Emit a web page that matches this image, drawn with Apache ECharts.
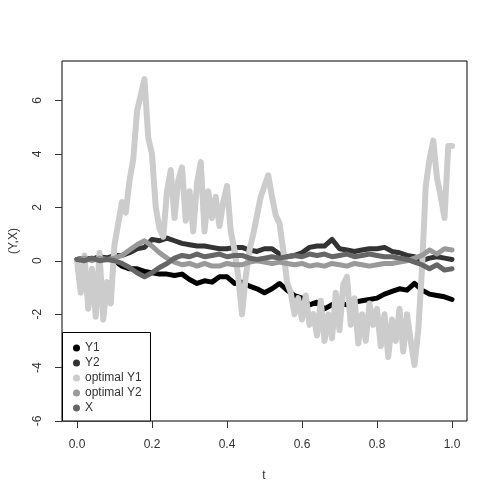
<!DOCTYPE html>
<html>
<head>
<meta charset="utf-8">
<script src="https://cdn.jsdelivr.net/npm/echarts@6/dist/echarts.min.js"></script>
<style>
  html, body { margin: 0; padding: 0; background: #fff; }
  #chart { width: 498px; height: 498px; }
</style>
</head>
<body>
<div id="chart"></div>
<script>
  // time grid, step 0.02 (smooth series) and 0.01 (optimal Y1)
  var tCoarse = [0.00,0.02,0.04,0.06,0.08,0.10,0.12,0.14,0.16,0.18,0.20,0.22,0.24,0.26,0.28,0.30,0.32,0.34,0.36,0.38,0.40,
    0.42,0.44,0.46,0.48,0.50,0.52,0.54,0.56,0.58,0.60,0.62,0.64,0.66,0.68,0.70,0.72,0.74,0.76,0.78,0.80,
    0.82,0.84,0.86,0.88,0.90,0.92,0.94,0.96,0.98,1.00];
  var tFine = [0.00,0.01,0.02,0.03,0.04,0.05,0.06,0.07,0.08,0.09,0.10,0.11,0.12,0.13,0.14,0.15,0.16,0.17,0.18,0.19,0.20,
    0.21,0.22,0.23,0.24,0.25,0.26,0.27,0.28,0.29,0.30,0.31,0.32,0.33,0.34,0.35,0.36,0.37,0.38,0.39,0.40,
    0.41,0.42,0.43,0.44,0.45,0.46,0.47,0.48,0.49,0.50,0.51,0.52,0.53,0.54,0.55,0.56,0.57,0.58,0.59,0.60,
    0.61,0.62,0.63,0.64,0.65,0.66,0.67,0.68,0.69,0.70,0.71,0.72,0.73,0.74,0.75,0.76,0.77,0.78,0.79,0.80,
    0.81,0.82,0.83,0.84,0.85,0.86,0.87,0.88,0.89,0.90,0.91,0.92,0.93,0.94,0.95,0.96,0.97,0.98,0.99,1.00];

  var y1 = [0.05,0.1,0.05,0.15,0.1,0.0,-0.2,-0.3,-0.3,-0.4,-0.45,-0.5,-0.5,-0.55,-0.5,-0.7,-0.85,-0.75,-0.8,-0.6,-0.6,
    -0.85,-0.8,-0.95,-1.05,-1.2,-1.05,-0.85,-1.1,-1.3,-1.4,-1.65,-1.55,-1.8,-1.65,-1.6,-1.65,-1.55,-1.5,-1.45,-1.4,
    -1.25,-1.15,-1.05,-1.1,-0.85,-1.1,-1.25,-1.3,-1.35,-1.45];
  var y2 = [0.05,0.1,0.05,0.15,0.1,0.2,0.2,0.3,0.45,0.5,0.8,0.75,0.85,0.75,0.65,0.6,0.55,0.55,0.5,0.45,0.45,
    0.5,0.5,0.4,0.35,0.45,0.45,0.25,0.15,0.2,0.3,0.5,0.55,0.55,0.8,0.45,0.4,0.35,0.4,0.45,0.45,
    0.5,0.35,0.3,0.2,0.15,0.0,0.1,0.15,0.1,0.05];
  var optY1 = [0.0,-1.2,0.2,-1.8,-0.3,-2.1,0.3,-2.2,-0.8,-1.6,0.6,1.4,2.2,1.8,3.0,3.8,5.6,6.2,6.8,4.6,4.0,
    2.0,1.2,0.9,2.6,3.4,1.6,3.0,3.5,1.5,2.6,1.1,2.9,3.7,1.1,2.6,1.6,2.4,1.3,2.2,2.8,
    1.1,0.4,-0.6,-2.0,-0.6,0.4,1.0,1.7,2.4,2.8,3.2,2.4,1.7,1.4,0.4,-0.8,-1.2,-2.0,-1.4,-2.2,
    -1.3,-2.4,-2.0,-2.8,-1.5,-3.0,-2.0,-2.9,-1.2,-2.6,-0.9,-0.6,-2.4,-1.4,-3.1,-2.0,-3.0,-1.6,-2.4,-1.8,
    -3.2,-2.0,-3.6,-2.2,-3.0,-1.8,-3.4,-2.0,-3.0,-3.9,-2.6,-0.3,2.8,3.8,4.5,3.1,2.4,1.6,4.3,4.3];
  var optY2 = [0.05,0.1,0.0,0.1,0.05,0.1,0.2,0.4,0.6,0.75,0.55,0.3,0.1,-0.05,-0.15,-0.1,-0.2,-0.1,-0.2,-0.2,-0.1,
    -0.15,-0.15,-0.05,0.0,-0.05,-0.1,-0.05,-0.1,-0.15,-0.1,-0.2,-0.15,-0.2,-0.1,-0.15,-0.2,-0.1,-0.15,-0.2,-0.15,
    -0.1,-0.1,-0.05,0.0,0.1,0.2,0.4,0.25,0.45,0.4];
  var xs = [0.05,0.0,0.1,0.0,0.05,0.0,-0.1,-0.25,-0.45,-0.6,-0.45,-0.25,-0.1,0.1,0.2,0.15,0.25,0.15,0.2,0.25,0.15,
    0.2,0.2,0.1,0.05,0.1,0.15,0.1,0.15,0.2,0.15,0.25,0.2,0.25,0.15,0.2,0.25,0.15,0.2,0.25,0.2,
    0.15,0.15,0.1,0.05,-0.05,-0.15,-0.3,-0.15,-0.35,-0.3];

  var xTicks = [0, 0.2, 0.4, 0.6, 0.8, 1.0];
  var yTicks = [-6, -4, -2, 0, 2, 4, 6];

  function pairs(t, v) {
    var out = [];
    for (var i = 0; i < v.length; i++) out.push([t[i], v[i]]);
    return out;
  }

  function lineSeries(name, color, t, v, w) {
    return {
      name: name,
      type: 'line',
      data: pairs(t, v),
      showSymbol: false,
      symbol: 'circle',
      color: color,
      lineStyle: { color: color, width: w, join: 'round', cap: 'round' },
      animation: false,
      z: 2
    };
  }

  var chart = echarts.init(document.getElementById('chart'));
  var font = 'Liberation Sans, Arial, sans-serif';
  chart.setOption({
    backgroundColor: '#fff',
    animation: false,
    grid: {
      left: 62, top: 61, width: 405, height: 360,
      show: true, borderColor: '#000', borderWidth: 1, backgroundColor: 'transparent'
    },
    xAxis: {
      type: 'value', min: -0.04, max: 1.04,
      splitLine: { show: false },
      axisLine: { show: false, onZero: false },
      axisTick: { show: true, length: 7, customValues: xTicks, lineStyle: { color: '#333' } },
      axisLabel: {
        customValues: xTicks, margin: 18, color: '#333',
        fontFamily: font, fontSize: 12,
        formatter: function (v) { return v.toFixed(1); }
      }
    },
    yAxis: {
      type: 'value', min: -6, max: 7.48,
      splitLine: { show: false },
      axisLine: { show: false, onZero: false },
      axisTick: { show: true, length: 7, customValues: yTicks, lineStyle: { color: '#333' } },
      axisLabel: {
        customValues: yTicks, margin: 18, rotate: 90, color: '#333',
        fontFamily: font, fontSize: 12
      }
    },
    legend: {
      orient: 'vertical', left: 68, top: 336,
      icon: 'circle', itemWidth: 7, itemHeight: 7, itemGap: 1, itemTextGap: 8,
      selectedMode: false, z: 10,
      textStyle: { fontFamily: font, fontSize: 12, lineHeight: 14, color: '#333' },
      data: ['Y1', 'Y2', 'optimal Y1', 'optimal Y2', 'X']
    },
    graphic: [
      {
        type: 'rect', z: 5,
        shape: { x: 62.5, y: 332.5, width: 88, height: 88.5 },
        style: { fill: '#fff', stroke: '#000', lineWidth: 1 }
      },
      {
        type: 'text', x: 264, y: 476, z: 5,
        style: { text: 't', fontFamily: font, fontSize: 12, fill: '#333', align: 'center', verticalAlign: 'middle' }
      },
      {
        type: 'text', x: 14, y: 241, rotation: Math.PI / 2, z: 5,
        style: { text: '(Y,X)', fontFamily: font, fontSize: 12, fill: '#333', align: 'center', verticalAlign: 'middle' }
      }
    ],
    series: [
      lineSeries('Y1', '#000000', tCoarse, y1, 5),
      lineSeries('Y2', '#333333', tCoarse, y2, 5),
      lineSeries('optimal Y1', '#cccccc', tFine, optY1, 6),
      lineSeries('optimal Y2', '#999999', tCoarse, optY2, 5),
      lineSeries('X', '#666666', tCoarse, xs, 5)
    ]
  });
</script>
</body>
</html>
